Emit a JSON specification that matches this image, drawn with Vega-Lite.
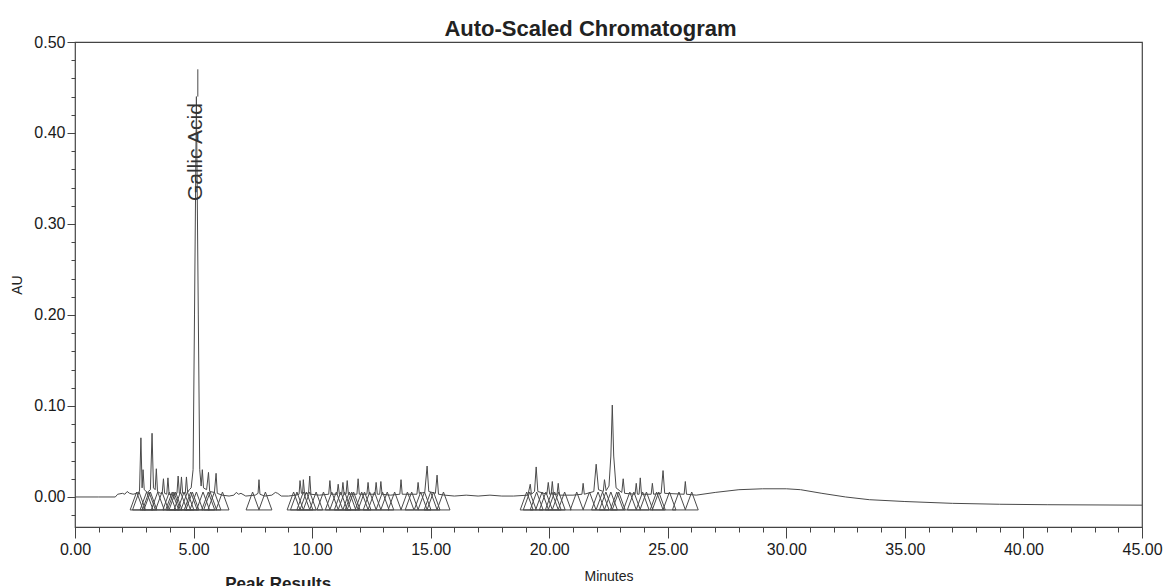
{
  "$schema": "https://vega.github.io/schema/vega-lite/v6.json",
  "width": 1067,
  "height": 485,
  "autosize": {"type": "none"},
  "padding": {"left": 75, "top": 42, "right": 24, "bottom": 59},
  "background": "white",
  "title": {"text": "Auto-Scaled Chromatogram", "fontSize": 22, "fontWeight": "bold", "font": "Liberation Sans", "color": "#222", "anchor": "middle", "frame": "group", "offset": 1, "dx": -18, "dy": 8},
  "config": {"view": {"stroke": "#444", "strokeWidth": 1.2}, "font": "Liberation Sans"},
  "resolve": {"axis": {"x": "independent", "y": "independent"}},
  "datasets": {
    "trace": [
      {"t": 0, "au": 0}, {"t": 1.0, "au": 0}, {"t": 1.7, "au": 0}, {"t": 1.8, "au": 0.003}, {"t": 2.0, "au": 0.004}, {"t": 2.1, "au": 0.003}, {"t": 2.2, "au": 0.006}, {"t": 2.3, "au": 0.004}, {"t": 2.45, "au": 0.003}, {"t": 2.6, "au": 0.004},
      {"t": 2.72, "au": 0.006}, {"t": 2.78, "au": 0.065}, {"t": 2.83, "au": 0.01}, {"t": 2.87, "au": 0.03}, {"t": 2.92, "au": 0.008}, {"t": 3.05, "au": 0.005}, {"t": 3.18, "au": 0.008}, {"t": 3.25, "au": 0.07}, {"t": 3.31, "au": 0.01}, {"t": 3.38, "au": 0.008},
      {"t": 3.43, "au": 0.031}, {"t": 3.48, "au": 0.006}, {"t": 3.6, "au": 0.004}, {"t": 3.68, "au": 0.005}, {"t": 3.73, "au": 0.02}, {"t": 3.78, "au": 0.004}, {"t": 3.87, "au": 0.003}, {"t": 3.92, "au": 0.021}, {"t": 3.97, "au": 0.003}, {"t": 4.15, "au": 0.002},
      {"t": 4.3, "au": 0.004}, {"t": 4.35, "au": 0.023}, {"t": 4.4, "au": 0.004}, {"t": 4.44, "au": 0.004}, {"t": 4.49, "au": 0.022}, {"t": 4.54, "au": 0.004}, {"t": 4.65, "au": 0.004}, {"t": 4.7, "au": 0.022}, {"t": 4.75, "au": 0.005}, {"t": 4.82, "au": 0.008},
      {"t": 4.9, "au": 0.01}, {"t": 4.98, "au": 0.03}, {"t": 5.04, "au": 0.2}, {"t": 5.12, "au": 0.44}, {"t": 5.2, "au": 0.2}, {"t": 5.26, "au": 0.03}, {"t": 5.32, "au": 0.012}, {"t": 5.37, "au": 0.03}, {"t": 5.42, "au": 0.01}, {"t": 5.55, "au": 0.008},
      {"t": 5.63, "au": 0.027}, {"t": 5.68, "au": 0.006}, {"t": 5.88, "au": 0.005}, {"t": 5.95, "au": 0.026}, {"t": 6.0, "au": 0.004}, {"t": 6.2, "au": 0.002}, {"t": 6.5, "au": 0.001}, {"t": 6.7, "au": 0.002}, {"t": 6.8, "au": 0.005}, {"t": 6.9, "au": 0.003},
      {"t": 7.0, "au": 0.004}, {"t": 7.2, "au": 0.001}, {"t": 7.6, "au": 0.002}, {"t": 7.72, "au": 0.004}, {"t": 7.76, "au": 0.019}, {"t": 7.8, "au": 0.003}, {"t": 8.0, "au": 0.001}, {"t": 8.3, "au": 0.002}, {"t": 8.45, "au": 0.005}, {"t": 8.55, "au": 0.004},
      {"t": 8.7, "au": 0.001}, {"t": 9.0, "au": 0.001}, {"t": 9.3, "au": 0.002}, {"t": 9.45, "au": 0.003}, {"t": 9.49, "au": 0.018}, {"t": 9.55, "au": 0.004}, {"t": 9.6, "au": 0.004}, {"t": 9.63, "au": 0.019}, {"t": 9.68, "au": 0.004}, {"t": 9.85, "au": 0.004},
      {"t": 9.9, "au": 0.023}, {"t": 9.95, "au": 0.003}, {"t": 10.3, "au": 0.002}, {"t": 10.7, "au": 0.003}, {"t": 10.75, "au": 0.018}, {"t": 10.8, "au": 0.003}, {"t": 11.05, "au": 0.003}, {"t": 11.1, "au": 0.014}, {"t": 11.15, "au": 0.003}, {"t": 11.25, "au": 0.003},
      {"t": 11.3, "au": 0.016}, {"t": 11.35, "au": 0.003}, {"t": 11.43, "au": 0.003}, {"t": 11.48, "au": 0.018}, {"t": 11.53, "au": 0.003}, {"t": 11.89, "au": 0.003}, {"t": 11.94, "au": 0.02}, {"t": 11.99, "au": 0.003}, {"t": 12.31, "au": 0.003}, {"t": 12.36, "au": 0.016},
      {"t": 12.41, "au": 0.003}, {"t": 12.65, "au": 0.003}, {"t": 12.7, "au": 0.016}, {"t": 12.75, "au": 0.003}, {"t": 12.85, "au": 0.003}, {"t": 12.9, "au": 0.017}, {"t": 12.95, "au": 0.003}, {"t": 13.3, "au": 0.002}, {"t": 13.7, "au": 0.003}, {"t": 13.75, "au": 0.019},
      {"t": 13.8, "au": 0.003}, {"t": 14.42, "au": 0.003}, {"t": 14.47, "au": 0.016}, {"t": 14.52, "au": 0.004}, {"t": 14.75, "au": 0.005}, {"t": 14.85, "au": 0.034}, {"t": 14.92, "au": 0.006}, {"t": 15.2, "au": 0.004}, {"t": 15.27, "au": 0.024}, {"t": 15.33, "au": 0.003},
      {"t": 15.6, "au": 0.002}, {"t": 16.0, "au": 0.001}, {"t": 16.5, "au": 0.002}, {"t": 17.0, "au": 0.001}, {"t": 17.5, "au": 0.002}, {"t": 18.0, "au": 0.001}, {"t": 18.5, "au": 0.001}, {"t": 19.1, "au": 0.002}, {"t": 19.2, "au": 0.014}, {"t": 19.25, "au": 0.003},
      {"t": 19.38, "au": 0.006}, {"t": 19.45, "au": 0.033}, {"t": 19.52, "au": 0.006}, {"t": 19.9, "au": 0.003}, {"t": 19.96, "au": 0.016}, {"t": 20.02, "au": 0.003}, {"t": 20.08, "au": 0.003}, {"t": 20.13, "au": 0.017}, {"t": 20.18, "au": 0.003}, {"t": 20.33, "au": 0.003},
      {"t": 20.38, "au": 0.015}, {"t": 20.43, "au": 0.002}, {"t": 21.0, "au": 0.002}, {"t": 21.38, "au": 0.003}, {"t": 21.43, "au": 0.015}, {"t": 21.48, "au": 0.003}, {"t": 21.88, "au": 0.006}, {"t": 21.98, "au": 0.036}, {"t": 22.08, "au": 0.008}, {"t": 22.28, "au": 0.006},
      {"t": 22.33, "au": 0.019}, {"t": 22.4, "au": 0.007}, {"t": 22.52, "au": 0.012}, {"t": 22.6, "au": 0.045}, {"t": 22.66, "au": 0.101}, {"t": 22.72, "au": 0.045}, {"t": 22.82, "au": 0.01}, {"t": 23.06, "au": 0.005}, {"t": 23.12, "au": 0.02}, {"t": 23.18, "au": 0.004},
      {"t": 23.62, "au": 0.003}, {"t": 23.67, "au": 0.015}, {"t": 23.72, "au": 0.003}, {"t": 23.79, "au": 0.003}, {"t": 23.84, "au": 0.021}, {"t": 23.89, "au": 0.003}, {"t": 24.3, "au": 0.003}, {"t": 24.35, "au": 0.015}, {"t": 24.4, "au": 0.003}, {"t": 24.72, "au": 0.004},
      {"t": 24.8, "au": 0.029}, {"t": 24.87, "au": 0.004}, {"t": 25.69, "au": 0.003}, {"t": 25.74, "au": 0.017}, {"t": 25.79, "au": 0.003}, {"t": 26.2, "au": 0.002}, {"t": 27.0, "au": 0.005}, {"t": 28.0, "au": 0.008}, {"t": 29.0, "au": 0.009}, {"t": 30.0, "au": 0.009},
      {"t": 30.6, "au": 0.008}, {"t": 31.5, "au": 0.004}, {"t": 32.5, "au": 0.0}, {"t": 33.5, "au": -0.003}, {"t": 35.0, "au": -0.005}, {"t": 37.0, "au": -0.007}, {"t": 39.0, "au": -0.008}, {"t": 41.0, "au": -0.0085}, {"t": 45.0, "au": -0.009}
    ],
    "marks": [
      {"t": 2.6}, {"t": 2.7}, {"t": 3.02}, {"t": 3.12}, {"t": 3.18}, {"t": 3.49}, {"t": 3.67}, {"t": 3.98}, {"t": 4.1}, {"t": 4.17}, {"t": 4.24}, {"t": 4.45}, {"t": 4.6}, {"t": 4.74}, {"t": 4.88}, {"t": 4.95}, {"t": 5.12}, {"t": 5.4}, {"t": 5.62}, {"t": 5.7}, {"t": 5.88}, {"t": 6.22},
      {"t": 7.49}, {"t": 8.03},
      {"t": 9.22}, {"t": 9.36}, {"t": 9.63}, {"t": 9.76}, {"t": 9.9}, {"t": 10.17}, {"t": 10.48}, {"t": 10.83}, {"t": 11.02}, {"t": 11.21}, {"t": 11.37}, {"t": 11.57}, {"t": 11.67}, {"t": 11.75}, {"t": 12.09}, {"t": 12.21}, {"t": 12.43}, {"t": 12.63}, {"t": 12.97}, {"t": 13.17}, {"t": 13.48}, {"t": 14.02}, {"t": 14.2}, {"t": 14.58}, {"t": 14.74}, {"t": 15.0}, {"t": 15.12}, {"t": 15.54},
      {"t": 19.05}, {"t": 19.18}, {"t": 19.47}, {"t": 19.7}, {"t": 19.86}, {"t": 20.11}, {"t": 20.23}, {"t": 20.4}, {"t": 20.65}, {"t": 21.16}, {"t": 21.7}, {"t": 22.06}, {"t": 22.25}, {"t": 22.39}, {"t": 22.6}, {"t": 22.85}, {"t": 22.93}, {"t": 23.4}, {"t": 23.57}, {"t": 23.94}, {"t": 24.1}, {"t": 24.53}, {"t": 24.62}, {"t": 25.07}, {"t": 25.47}, {"t": 26.01}
    ],
    "labels": [
      {"t": 5.18, "au": 0.379, "label": "Gallic Acid", "top": 0.47, "peak": 0.44}
    ],
    "notes": [
      {"t": 8.57, "au": -0.101, "label": "Peak Results"}
    ]
  },
  "layer": [
    {
      "data": {"name": "trace"},
      "mark": {"type": "line", "color": "#4a4a4a", "strokeWidth": 1, "clip": true},
      "encoding": {
        "x": {
          "field": "t", "type": "quantitative",
          "scale": {"domain": [0, 45], "nice": false, "zero": false},
          "axis": {
            "orient": "bottom",
            "title": "Minutes", "titleFontSize": 14, "titleFontWeight": "normal", "titleColor": "#222", "titlePadding": 12,
            "values": [0, 5, 10, 15, 20, 25, 30, 35, 40, 45],
            "format": ".2f", "labelOverlap": false, "labelFontSize": 16, "labelColor": "#1a1a1a", "labelPadding": 3, "labelFlush": false,
            "tickSize": 11, "tickColor": "#444", "domain": false, "grid": false
          }
        },
        "y": {
          "field": "au", "type": "quantitative",
          "scale": {"domain": [-0.033, 0.5], "nice": false, "zero": false},
          "axis": {
            "orient": "left",
            "title": "AU", "titleFontSize": 14, "titleFontWeight": "normal", "titleColor": "#222", "titlePadding": 9,
            "values": [0, 0.1, 0.2, 0.3, 0.4, 0.5],
            "format": ".2f", "labelOverlap": false, "labelFontSize": 16, "labelColor": "#1a1a1a", "labelPadding": 2, "labelFlush": false,
            "tickSize": 8, "tickColor": "#444", "domain": false, "grid": false
          }
        }
      }
    },
    {
      "data": {"name": "marks"},
      "mark": {"type": "point", "shape": "M-1,1.38L1,1.38L0,-1.38Z", "size": 169, "filled": false, "stroke": "#4a4a4a", "strokeWidth": 1, "opacity": 1},
      "encoding": {
        "x": {"field": "t", "type": "quantitative", "axis": null},
        "y": {"datum": -0.0044, "axis": null}
      }
    },
    {
      "data": {"name": "labels"},
      "mark": {"type": "rule", "color": "#4a4a4a", "strokeWidth": 1},
      "encoding": {
        "x": {
          "field": "t", "type": "quantitative",
          "axis": {
            "orient": "bottom", "title": null, "labels": false, "domain": false, "grid": false,
            "values": [1, 2, 3, 4, 6, 7, 8, 9, 11, 12, 13, 14, 16, 17, 18, 19, 21, 22, 23, 24, 26, 27, 28, 29, 31, 32, 33, 34, 36, 37, 38, 39, 41, 42, 43, 44],
            "tickSize": 5, "tickColor": "#444"
          }
        },
        "y": {
          "field": "peak", "type": "quantitative",
          "axis": {
            "orient": "left", "title": null, "labels": false, "domain": false, "grid": false,
            "values": [-0.02, 0.02, 0.04, 0.06, 0.08, 0.12, 0.14, 0.16, 0.18, 0.22, 0.24, 0.26, 0.28, 0.32, 0.34, 0.36, 0.38, 0.42, 0.44, 0.46, 0.48],
            "tickSize": 4, "tickColor": "#444"
          }
        },
        "y2": {"field": "top"}
      }
    },
    {
      "data": {"name": "labels"},
      "mark": {"type": "text", "angle": 270, "align": "center", "baseline": "middle", "fontSize": 21, "color": "#333", "dy": -2},
      "encoding": {
        "x": {"field": "t", "type": "quantitative", "axis": null},
        "y": {"field": "au", "type": "quantitative", "axis": null},
        "text": {"field": "label"}
      }
    },
    {
      "data": {"name": "notes"},
      "mark": {"type": "text", "align": "center", "baseline": "alphabetic", "fontSize": 17, "fontWeight": "bold", "color": "#222", "clip": false},
      "encoding": {
        "x": {"field": "t", "type": "quantitative", "axis": null},
        "y": {"field": "au", "type": "quantitative", "axis": null},
        "text": {"field": "label"}
      }
    }
  ]
}
